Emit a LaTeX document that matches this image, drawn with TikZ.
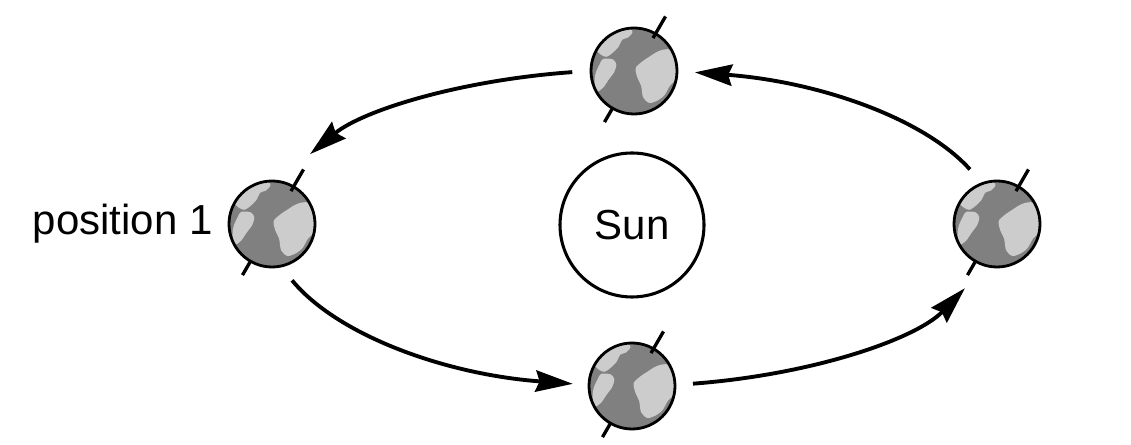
\documentclass[tikz,border=0pt]{standalone}
\usepackage{fontspec}
\setmainfont{Liberation Sans}
\usepackage{tikz}
\usetikzlibrary{arrows.meta}

\definecolor{ocean}{gray}{0.5}
\definecolor{land}{gray}{0.8}

\begin{document}
\begin{tikzpicture}[x=0.75pt,y=0.75pt]
        \useasboundingbox (0,0) rectangle (1131,445);

        % Define the style for the earth nodes
        \tikzstyle{earth}=[circle, draw, line width=2.1pt, fill=ocean, minimum size=64.5pt, inner sep=0pt,
            path picture={
                \begin{scope}[shift={(path picture bounding box.center)}, x=38pt, y=38pt]
                \fill[land] plot[smooth cycle, tension=0.5] coordinates {(-0.80,0.62) (-0.58,0.81) (-0.31,0.93) (-0.12,0.90) (-0.03,0.77) (-0.12,0.66) (-0.23,0.62) (-0.31,0.47) (-0.42,0.36) (-0.54,0.28) (-0.65,0.32) (-0.78,0.45)};
                \fill[land] plot[smooth cycle, tension=0.5] coordinates {(-0.61,0.24) (-0.42,0.23) (-0.35,0.13) (-0.39,-0.02) (-0.50,-0.17) (-0.61,-0.33) (-0.73,-0.40) (-0.78,-0.21) (-0.75,-0.02) (-0.68,0.13)};
                \fill[land] plot[smooth cycle, tension=0.5] coordinates {(0.30,0.28) (0.48,0.39) (0.67,0.43) (0.90,0.36) (1.00,0.20) (0.98,0.02) (0.83,-0.17) (0.71,-0.29) (0.60,-0.48) (0.45,-0.59) (0.30,-0.63) (0.18,-0.52) (0.14,-0.29) (0.07,-0.14) (0.03,0.05) (0.14,0.17)};
                \end{scope}}]
        \tikzstyle{sun}=[circle, draw, line width=2.3pt, minimum size=108pt, inner sep=0pt, font=\fontsize{31.5}{38}\selectfont]
        \tikzstyle{orbit}=[line width=2.9pt, -{Stealth[length=28pt, width=16pt, inset=3pt]}]
        \tikzstyle{axisline}=[line width=2.5pt]

        % Define the nodes
        \node[sun] (sun) at (632,220) {Sun};
        \node[earth] (et) at (634,374) {};
        \node[earth] (el) at (272,221) {};
        \node[earth] (eb) at (632,59) {};
        \node[earth] (er) at (997,221) {};
        \node[anchor=east, inner sep=0pt, xshift=-11pt, font=\fontsize{31.5}{38}\selectfont] (pos) at (el.west) {position 1};

        % Define the tilted axes
        \draw[axisline] ([shift={(60:38)}]et.center) -- ([shift={(60:63)}]et.center) ([shift={(240:42)}]et.center) -- ([shift={(240:59)}]et.center);
        \draw[axisline] ([shift={(60:38)}]el.center) -- ([shift={(60:63)}]el.center) ([shift={(240:42)}]el.center) -- ([shift={(240:59)}]el.center);
        \draw[axisline] ([shift={(60:38)}]eb.center) -- ([shift={(60:63)}]eb.center) ([shift={(240:42)}]eb.center) -- ([shift={(240:59)}]eb.center);
        \draw[axisline] ([shift={(60:38)}]er.center) -- ([shift={(60:63)}]er.center) ([shift={(240:42)}]er.center) -- ([shift={(240:59)}]er.center);

        % Define the starts of the orbit arrows
        \coordinate (o1) at ([shift={(99.5:362 and 155)}]sun.center);
        \coordinate (o2) at ([shift={(200.1:362 and 161)}]sun.center);
        \coordinate (o3) at ([shift={(279.7:362 and 161)}]sun.center);
        \coordinate (o4) at ([shift={(21:362 and 155)}]sun.center);

        % Define the arrows of the orbit
        \draw[orbit] (o1) arc[start angle=99.5, end angle=152.8, x radius=362, y radius=155];
        \draw[orbit] (o2) arc[start angle=200.1, end angle=260.6, x radius=362, y radius=161];
        \draw[orbit] (o3) arc[start angle=279.7, end angle=336.9, x radius=362, y radius=161];
        \draw[orbit] (o4) arc[start angle=21, end angle=80, x radius=362, y radius=155];
    \end{tikzpicture}
\end{document}
